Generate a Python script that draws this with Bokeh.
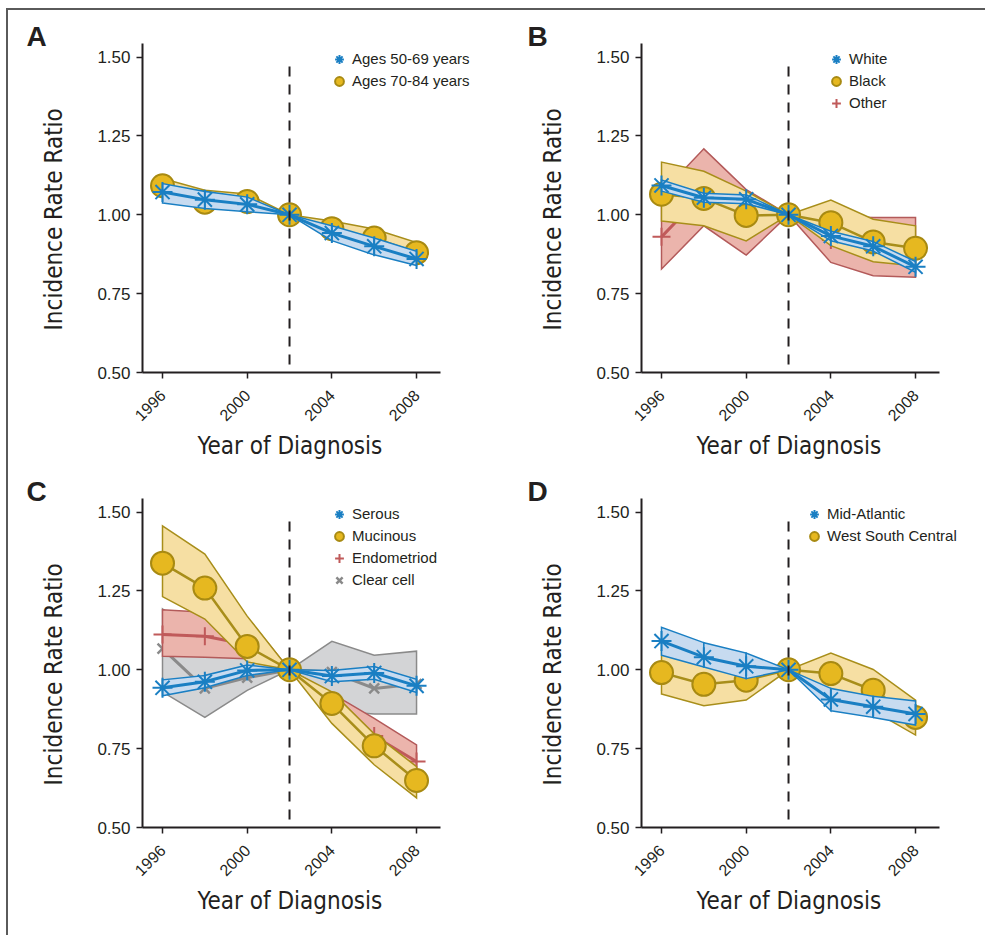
import numpy as np
from bokeh.plotting import figure
from bokeh.models import FixedTicker, PrintfTickFormatter, Legend, LegendItem, Title
from bokeh.layouts import gridplot, column
from bokeh.embed import file_html
from bokeh.resources import INLINE

# ---------------- data ----------------
YEARS = [1996, 1998, 2000, 2002, 2004, 2006, 2008]
REF_YEAR = 2002
X_TICKS = [1996, 2000, 2004, 2008]
Y_TICKS = [0.50, 0.75, 1.00, 1.25, 1.50]
X_LABEL = "Year of Diagnosis"
Y_LABEL = "Incidence Rate Ratio"

# Panel A: age
a_age5069 = [1.072, 1.048, 1.033, 1.00, 0.942, 0.900, 0.860]
a_age5069_lo = [1.037, 1.020, 1.010, 1.00, 0.918, 0.873, 0.839]
a_age5069_hi = [1.099, 1.074, 1.056, 1.00, 0.965, 0.926, 0.884]
a_age7084 = [1.092, 1.040, 1.042, 1.00, 0.956, 0.926, 0.880]
a_age7084_lo = [1.065, 1.018, 1.022, 1.00, 0.938, 0.903, 0.858]
a_age7084_hi = [1.115, 1.078, 1.066, 1.00, 0.980, 0.955, 0.912]

# Panel B: race
b_white = [1.093, 1.054, 1.049, 1.00, 0.933, 0.900, 0.835]
b_white_lo = [1.075, 1.040, 1.035, 1.00, 0.918, 0.885, 0.818]
b_white_hi = [1.110, 1.068, 1.063, 1.00, 0.948, 0.915, 0.852]
b_black = [1.065, 1.052, 0.998, 1.00, 0.975, 0.914, 0.894]
b_black_lo = [0.980, 0.965, 0.917, 1.00, 0.902, 0.851, 0.838]
b_black_hi = [1.167, 1.138, 1.075, 1.00, 1.047, 0.986, 0.965]
b_other = [0.930, 1.070, 1.030, 1.00, 0.920, 0.895, 0.890]
b_other_lo = [0.828, 0.965, 0.872, 1.00, 0.849, 0.807, 0.802]
b_other_hi = [1.068, 1.209, 1.080, 1.00, 0.995, 0.991, 0.991]

# Panel C: histology
c_serous = [0.943, 0.962, 0.998, 1.00, 0.980, 0.990, 0.949]
c_serous_lo = [0.918, 0.943, 0.982, 1.00, 0.962, 0.970, 0.928]
c_serous_hi = [0.968, 0.982, 1.015, 1.00, 0.998, 1.010, 0.970]
c_mucinous = [1.338, 1.259, 1.074, 1.00, 0.893, 0.759, 0.649]
c_mucinous_lo = [1.232, 1.161, 1.025, 1.00, 0.830, 0.699, 0.594]
c_mucinous_hi = [1.456, 1.367, 1.170, 1.00, 0.930, 0.797, 0.693]
c_endometriod = [1.112, 1.106, 1.080, 1.00, 0.900, 0.790, 0.709]
c_endometriod_lo = [1.043, 1.040, 1.035, 1.00, 0.850, 0.740, 0.660]
c_endometriod_hi = [1.190, 1.182, 1.167, 1.00, 0.925, 0.846, 0.762]
c_clear = [1.067, 0.941, 0.975, 1.00, 0.993, 0.941, 0.955]
c_clear_lo = [0.930, 0.849, 0.935, 1.00, 0.870, 0.860, 0.860]
c_clear_hi = [1.193, 1.100, 1.050, 1.00, 1.090, 1.046, 1.059]

# Panel D: region
d_midatl = [1.091, 1.040, 1.011, 1.00, 0.906, 0.883, 0.860]
d_midatl_lo = [1.046, 1.009, 0.972, 1.00, 0.870, 0.849, 0.825]
d_midatl_hi = [1.135, 1.086, 1.053, 1.00, 0.941, 0.916, 0.901]
d_wsc = [0.991, 0.954, 0.967, 1.00, 0.988, 0.935, 0.849]
d_wsc_lo = [0.923, 0.886, 0.904, 1.00, 0.925, 0.870, 0.793]
d_wsc_hi = [1.060, 1.020, 1.030, 1.00, 1.053, 1.001, 0.904]

# ---------------- styles ----------------
INK = "#231f20"
STYLES = {
    "blue": dict(line="#1a7fc3", band="#c7dbf0", band_line="#1a7fc3", marker="asterisk",
                 size=20, mfill="#1a7fc3", mline="#1a7fc3", mlw=2, lw=3, segmented=True),
    "gold": dict(line="#a88e1a", band="#f6dfa3", band_line="#a88e1a", marker="circle",
                 size=23, mfill="#e6b820", mline="#a88a12", mlw=2, lw=2.5, segmented=False),
    "red": dict(line="#c05a5a", band="#ebb4ac", band_line="#b35a5a", marker="cross",
                size=18, mfill="#c05a5a", mline="#c05a5a", mlw=2, lw=3, segmented=False),
    "gray": dict(line="#8a8a8a", band="#d3d4d6", band_line="#8a8a8a", marker="x",
                 size=14, mfill="#8a8a8a", mline="#8a8a8a", mlw=2.5, lw=3, segmented=False),
}

PANELS = [
    ("A", [("Ages 50-69 years", a_age5069, a_age5069_lo, a_age5069_hi, "blue"),
           ("Ages 70-84 years", a_age7084, a_age7084_lo, a_age7084_hi, "gold")], 186),
    ("B", [("White", b_white, b_white_lo, b_white_hi, "blue"),
           ("Black", b_black, b_black_lo, b_black_hi, "gold"),
           ("Other", b_other, b_other_lo, b_other_hi, "red")], 184),
    ("C", [("Serous", c_serous, c_serous_lo, c_serous_hi, "blue"),
           ("Mucinous", c_mucinous, c_mucinous_lo, c_mucinous_hi, "gold"),
           ("Endometriod", c_endometriod, c_endometriod_lo, c_endometriod_hi, "red"),
           ("Clear cell", c_clear, c_clear_lo, c_clear_hi, "gray")], 186),
    ("D", [("Mid-Atlantic", d_midatl, d_midatl_lo, d_midatl_hi, "blue"),
           ("West South Central", d_wsc, d_wsc_lo, d_wsc_hi, "gold")], 162),
]

LABEL_FONT = "'Liberation Sans Narrow', 'DejaVu Sans Condensed', sans-serif"
TICK_FONT = "Liberation Sans"

FRAME_H = 331
PX_PER_YEAR = 21.17
X_START = 1995.055
X_AXIS_END = 2009.13
Y_START, Y_END = 0.5, 1.543
DASH_TOP = 1.47
GLYPH = 22


def make_panel(letter, series, legend_x, width, height, left, top, frame_w, letter_off):
    x_end = X_START + frame_w / PX_PER_YEAR
    p = figure(width=width, height=height, x_range=(X_START, x_end), y_range=(Y_START, Y_END),
               output_backend="svg", toolbar_location=None,
               min_border_left=left, min_border_right=width - left - frame_w,
               min_border_top=top, min_border_bottom=height - top - FRAME_H)
    p.outline_line_color = None
    p.xgrid.visible = False
    p.ygrid.visible = False
    p.background_fill_color = "white"
    p.border_fill_color = "white"

    # panel letter
    p.title.text = letter
    p.title.align = "left"
    p.title.offset = letter_off
    p.title.standoff = -16
    p.title.text_font = TICK_FONT
    p.title.text_font_size = "28px"
    p.title.text_font_style = "bold"
    p.title.text_color = INK

    ref_idx = YEARS.index(REF_YEAR)
    items = []
    for label, vals, lo, hi, key in reversed(series):
        st = STYLES[key]
        xs, ys = [], []
        if st["segmented"]:
            for i in range(len(YEARS) - 1):
                xs.append([YEARS[i], YEARS[i + 1], YEARS[i + 1], YEARS[i]])
                ys.append([lo[i], lo[i + 1], hi[i + 1], hi[i]])
        else:
            for a, b in [(0, ref_idx + 1), (ref_idx, len(YEARS))]:
                yr = YEARS[a:b]
                xs.append(yr + yr[::-1])
                ys.append(lo[a:b] + hi[a:b][::-1])
        p.patches(xs, ys, fill_color=st["band"], line_color=st["band_line"], line_width=1.5,
                  line_join="miter")
        p.line(YEARS, vals, line_color=st["line"], line_width=st["lw"])
        r = p.scatter(YEARS, vals, marker=st["marker"], size=st["size"],
                      fill_color=st["mfill"], line_color=st["mline"], line_width=st["mlw"])
        items.append(LegendItem(label=label, renderers=[r]))

    # reference-year dashed line, drawn top-down so the dash pattern starts at the top
    p.segment(x0=[REF_YEAR], y0=[DASH_TOP], x1=[REF_YEAR], y1=[Y_TICKS[0]],
              line_color=INK, line_width=2, line_dash="10 8")

    n = len(series)
    leg_h = n * GLYPH
    leg_top = FRAME_H - (17.5 - GLYPH / 2)
    legend = Legend(items=items[::-1], location=(legend_x, leg_top - leg_h),
                    glyph_width=GLYPH, glyph_height=GLYPH, label_height=GLYPH,
                    spacing=0, padding=0, margin=0, label_standoff=2,
                    border_line_color=None, background_fill_alpha=0,
                    label_text_font=TICK_FONT, label_text_font_size="15px",
                    label_text_color=INK)
    p.add_layout(legend)

    for ax in (p.xaxis[0], p.yaxis[0]):
        ax.axis_line_color = INK
        ax.axis_line_width = 2
        ax.major_tick_line_color = INK
        ax.major_tick_line_width = 1.5
        ax.major_tick_out = 6
        ax.major_tick_in = 0
        ax.minor_tick_line_color = None
        ax.major_label_text_font = TICK_FONT
        ax.major_label_text_font_size = "17px"
        ax.major_label_text_color = INK

    p.xaxis.ticker = FixedTicker(ticks=X_TICKS)
    p.xaxis.bounds = (X_START, X_AXIS_END)
    p.xaxis.major_label_orientation = np.pi / 4
    p.xaxis.major_label_standoff = 14
    p.xaxis.major_label_text_font_size = "16px"

    p.yaxis.ticker = FixedTicker(ticks=Y_TICKS)
    p.yaxis.formatter = PrintfTickFormatter(format="%.2f")
    p.yaxis.major_label_standoff = 6

    # axis titles (placed with offsets so they sit where the original has them)
    p.add_layout(Title(text=X_LABEL, align="left", offset=55, vertical_align="top",
                       standoff=4, text_font=LABEL_FONT, text_font_size="24px",
                       text_font_style="normal", text_color=INK), "below")
    p.add_layout(Title(text=Y_LABEL, align="left", offset=42, vertical_align="bottom",
                       standoff=54, text_font=LABEL_FONT, text_font_size="24px",
                       text_font_style="normal", text_color=INK), "left")
    return p


# (width, height, left border, top border, frame width, letter offset) per panel
GEOM = [(499, 453, 134, 33, 358, -116), (478, 453, 134, 33, 342, -114),
        (499, 455, 134, 35, 358, -116), (478, 455, 134, 35, 342, -114)]
figs = [make_panel(letter, series, lx, *g) for (letter, series, lx), g in zip(PANELS, GEOM)]

grid = gridplot([[figs[0], figs[1]], [figs[2], figs[3]]], toolbar_location=None)
page = column(grid, styles={"margin-left": "6px", "margin-top": "8px",
                            "padding-bottom": "17px",
                            "border-left": "2px solid #5a5a5a",
                            "border-top": "2px solid #5a5a5a"})

open("out.html", "w").write(file_html(page, INLINE))
